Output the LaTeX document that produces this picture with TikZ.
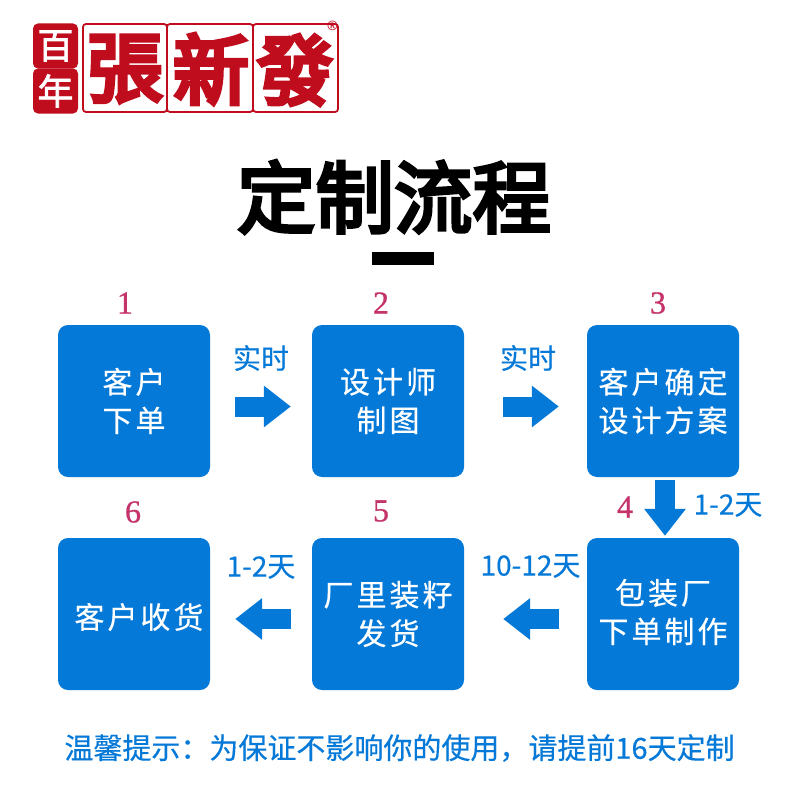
\documentclass[tikz,border=0pt]{standalone}
\usepackage{fontspec}
\usetikzlibrary{arrows.meta}
\setmainfont{Noto Sans CJK SC}[FakeBold=0.4]
\newfontfamily\boxf{Noto Sans CJK SC}[LetterSpace=10,FakeBold=0.4]
\newfontfamily\blackf{Noto Sans CJK SC}[FakeBold=4.5]
\newfontfamily\logof{Noto Sans CJK TC}[FakeBold=6]
\newfontfamily\logos{Noto Sans CJK SC}[FakeBold=2]
\newfontfamily\numf{Liberation Serif}[FakeBold=0.8]
\newfontfamily\latf{Noto Sans}
\definecolor{bl}{HTML}{0579D7}
\definecolor{rd}{HTML}{C00D1E}
\definecolor{cr}{HTML}{C4336A}
\tikzset{
  stepbox/.style={fill=bl,rounded corners=10pt,minimum width=152pt,minimum height=152pt,inner sep=0pt,text=white,align=center,font=\boxf\fontsize{30}{38.5}\selectfont},
  stepext/.style={text=white,align=center,inner sep=0pt,font=\boxf\fontsize{30}{38.5}\selectfont},
  numlab/.style={text=cr,inner sep=0pt,font=\numf\fontsize{32}{32}\selectfont},
  bluelab/.style={text=bl,inner sep=0pt,font=\fontsize{28}{28}\selectfont},
  bigarrow/.style={line width=20pt,-{Triangle[length=27pt,width=40pt]},draw=bl},
  cell/.style={draw=rd,line width=1.8pt,rounded corners=3pt,inner sep=0pt},
  logochar/.style={text=rd,inner sep=0pt,font=\logof\fontsize{76}{76}\selectfont},
  seal/.style={fill=rd,rounded corners=5pt,minimum width=45pt,minimum height=45pt,inner sep=0pt,text=white,font=\logos\fontsize{36}{36}\selectfont},
}
\begin{document}
\begin{tikzpicture}[x=1pt,y=-1pt]
\useasboundingbox (0,0) rectangle (800,800);
% logo
\node[seal] (bai) at (55.5,46) {百};
\node[seal] (nian) at (55.5,91) {年};
\node[cell,minimum width=84pt,minimum height=88pt] (c1) at (125,68) {};
\node[cell,minimum width=86pt,minimum height=88pt] (c2) at (210,68) {};
\node[cell,minimum width=85pt,minimum height=88pt] (c3) at (295.5,68) {};
\node[logochar] (zhang) at (125,69) {張};
\node[logochar] (xin) at (211,69) {新};
\node[logochar] (fa) at (295,70) {發};
\node[text=rd,inner sep=0pt,font=\latf\fontsize{13}{13}\selectfont] (reg) at (332.5,25.5) {®};
% title
\node[inner sep=0pt,font=\blackf\fontsize{78.5}{78.5}\selectfont] (title) at (394,197) {定制流程};
\node[fill=black,minimum width=62pt,minimum height=13pt,inner sep=0pt] (bar) at (403,258.5) {};
% boxes
\node[stepbox] (s1) at (134,401) {客户\\下单};
\node[stepbox] (s2) at (388,401) {设计师\\制图};
\node[stepbox] (s3) at (663,401) {客户确定\\设计方案};
\node[stepbox] (s4) at (663,614) {};
\node[stepext] (s4t) at ([yshift=2pt]s4.center) {包装厂\\下单制作};
\node[stepbox] (s5) at (388,614) {厂里装籽\\发货};
\node[stepbox] (s6) at (134,614) {};
\node[stepext] (s6t) at (139,617) {客户收货};
% numbers
\node[numlab] (n1) at (125,303) {1};
\node[numlab] (n2) at (381,303) {2};
\node[numlab] (n3) at (658,303) {3};
\node[numlab] (n4) at (625,507) {4};
\node[numlab] (n5) at (381,511) {5};
\node[numlab] (n6) at (133,512) {6};
% arrows
\draw[bigarrow] ([xshift=25pt,yshift=-5.5pt]s1.east) -- ([xshift=-21pt,yshift=-5.5pt]s2.west);
\draw[bigarrow] ([xshift=39pt,yshift=-5.5pt]s2.east) -- ([xshift=-28pt,yshift=-5.5pt]s3.west);
\draw[bigarrow] ([xshift=2pt,yshift=-3pt]s3.south) -- ([xshift=2pt,yshift=2pt]s4.north);
\draw[bigarrow] ([xshift=-28pt,yshift=-5pt]s4.west) -- ([xshift=39pt,yshift=-5pt]s5.east);
\draw[bigarrow] ([xshift=-21pt,yshift=-5pt]s5.west) -- ([xshift=25pt,yshift=-5pt]s6.east);
% labels
\node[bluelab] (l1) at (261,358) {实时};
\node[bluelab] (l2) at (528,358) {实时};
\node[bluelab] (l3) at (728,505) {1-2天};
\node[bluelab] (l4) at (530.5,566) {10-12天};
\node[bluelab] (l5) at (261,567) {1-2天};
\node[text=bl,inner sep=0pt,font=\fontsize{29}{29}\selectfont] (note) at (399.5,748) {温馨提示：为保证不影响你的使用，请提前16天定制};
\end{tikzpicture}
\end{document}
